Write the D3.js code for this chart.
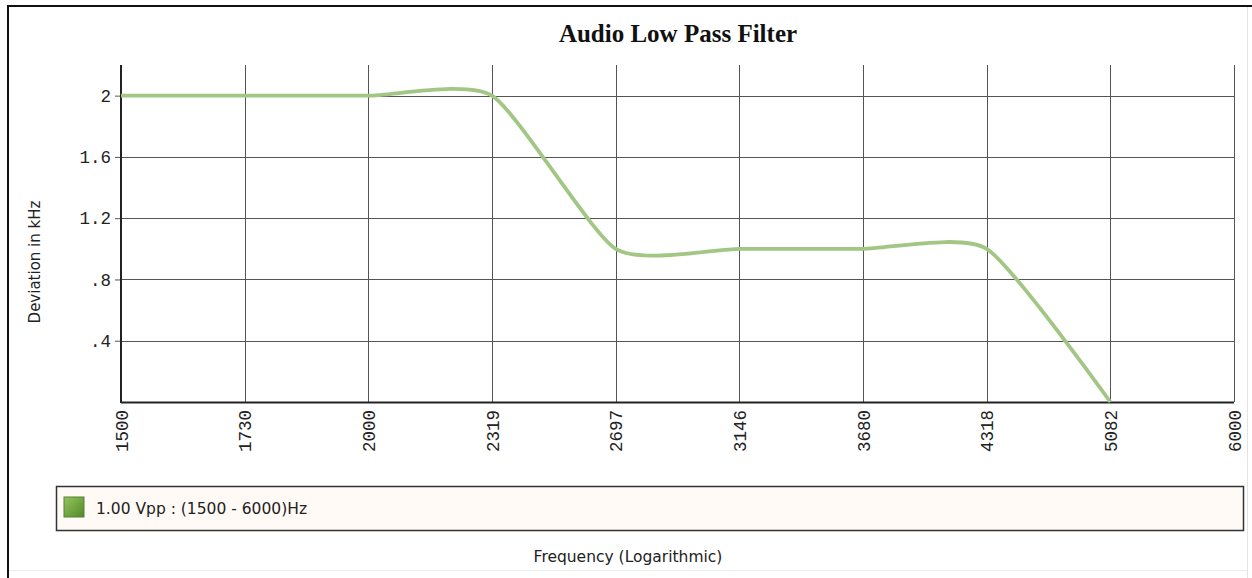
<!DOCTYPE html>
<html>
<head>
<meta charset="utf-8">
<script src="https://cdn.jsdelivr.net/npm/d3@7"></script>
<style>
    body { margin: 0; background: #fff; }
    svg { display: block; }
</style>
</head>
<body>
<div id="chart"></div>
<script>
// Data
const freqTicks = [1500, 1730, 2000, 2319, 2697, 3146, 3680, 4318, 5082, 6000];
const yTicks = [0.4, 0.8, 1.2, 1.6, 2];
const seriesFreq = [1500, 1730, 2000, 2319, 2697, 3146, 3680, 4318, 5082];
const seriesDev = [2, 2, 2, 2, 1, 1, 1, 1, 0];
const seriesName = '1.00 Vpp : (1500 - 6000)Hz';

document.addEventListener('DOMContentLoaded', function() {
    const config = {
        width: 1252,
        height: 578,
        plot: { left: 121, right: 1234, top: 65, bottom: 402 },
        sans: '"DejaVu Sans", Verdana, sans-serif',
        mono: '"Liberation Mono", "Courier New", monospace'
    };

    const svg = d3.select('#chart')
        .append('svg')
        .attr('width', config.width)
        .attr('height', config.height);

    // outer frame (dark top/left, light bottom/right)
    svg.append('line').attr('x1', 7).attr('x2', 1252).attr('y1', 6).attr('y2', 6)
        .attr('stroke', '#111').attr('stroke-width', 2);
    svg.append('line').attr('x1', 8).attr('x2', 8).attr('y1', 6).attr('y2', 578)
        .attr('stroke', '#111').attr('stroke-width', 2);
    svg.append('line').attr('x1', 1247.5).attr('x2', 1247.5).attr('y1', 7).attr('y2', 578)
        .attr('stroke', '#e4e4e4').attr('stroke-width', 1);
    svg.append('line').attr('x1', 9).attr('x2', 1247).attr('y1', 570.5).attr('y2', 570.5)
        .attr('stroke', '#ececec').attr('stroke-width', 1);

    const p = config.plot;

    // x is spaced evenly by tick (logarithmic display), y is linear
    const x = d3.scalePoint()
        .domain(freqTicks)
        .range([p.left, p.right]);

    const y = d3.scaleLinear()
        .domain([0, 2.2])
        .range([p.bottom, p.top]);

    // Title
    svg.append('text')
        .attr('x', 678)
        .attr('y', 42)
        .attr('text-anchor', 'middle')
        .attr('font-family', '"Liberation Serif", "Times New Roman", serif')
        .attr('font-weight', 'bold')
        .attr('font-size', 25)
        .attr('fill', '#111')
        .text('Audio Low Pass Filter');

    // Gridlines
    const grid = svg.append('g');
    grid.selectAll('.vgrid')
        .data(freqTicks)
        .enter()
        .append('line')
        .attr('class', 'vgrid')
        .attr('x1', d => Math.round(x(d)) + 0.5)
        .attr('x2', d => Math.round(x(d)) + 0.5)
        .attr('y1', p.top)
        .attr('y2', p.bottom)
        .attr('stroke', '#555')
        .attr('stroke-width', 1);

    grid.selectAll('.hgrid')
        .data(yTicks)
        .enter()
        .append('line')
        .attr('class', 'hgrid')
        .attr('x1', p.left)
        .attr('x2', p.right)
        .attr('y1', d => Math.round(y(d)) + 0.5)
        .attr('y2', d => Math.round(y(d)) + 0.5)
        .attr('stroke', '#555')
        .attr('stroke-width', 1);

    // Y axis
    const yAxis = d3.axisLeft(y)
        .tickValues(yTicks)
        .tickSize(6)
        .tickPadding(4)
        .tickFormat(d => d3.format('.1f')(d).replace(/^0/, '').replace(/\.0$/, ''));

    const gy = svg.append('g')
        .attr('transform', `translate(${p.left},0)`)
        .call(yAxis);
    gy.select('.domain').remove();
    gy.selectAll('.tick line').attr('stroke', '#555');
    gy.selectAll('.tick text')
        .attr('font-family', config.mono)
        .attr('font-size', 17.5)
        .attr('fill', '#222');

    // X axis labels, rotated
    const xAxis = d3.axisBottom(x).tickSize(0).tickPadding(0);
    const gx = svg.append('g')
        .attr('transform', `translate(0,${p.bottom})`)
        .call(xAxis);
    gx.select('.domain').remove();
    gx.selectAll('.tick text')
        .attr('font-family', config.mono)
        .attr('font-size', 17.5)
        .attr('fill', '#222')
        .attr('text-anchor', 'end')
        .attr('dy', null)
        .attr('transform', 'translate(6,8) rotate(-90)');

    // axis lines
    svg.append('line')
        .attr('x1', p.left).attr('x2', p.left)
        .attr('y1', p.top).attr('y2', p.bottom + 1)
        .attr('stroke', '#222').attr('stroke-width', 2);
    svg.append('line')
        .attr('x1', p.left).attr('x2', p.right)
        .attr('y1', p.bottom + 0.5).attr('y2', p.bottom + 0.5)
        .attr('stroke', '#222').attr('stroke-width', 2);

    // Series line
    const series = seriesFreq.map((f, i) => ({ f: f, v: seriesDev[i] }));
    const line = d3.line()
        .x(d => x(d.f))
        .y(d => y(d.v))
        .curve(d3.curveCardinal.tension(0.4));

    svg.append('path')
        .datum(series)
        .attr('fill', 'none')
        .attr('stroke', '#a2c684')
        .attr('stroke-width', 3.8)
        .attr('stroke-linejoin', 'round')
        .attr('d', line);

    // Y axis title
    svg.append('text')
        .attr('transform', 'translate(40,262) rotate(-90)')
        .attr('text-anchor', 'middle')
        .attr('font-family', config.sans)
        .attr('font-size', 15)
        .attr('fill', '#222')
        .text('Deviation in kHz');

    // Legend
    const defs = svg.append('defs');
    const grad = defs.append('linearGradient')
        .attr('id', 'swatch')
        .attr('x1', 0).attr('y1', 0).attr('x2', 1).attr('y2', 1);
    grad.append('stop').attr('offset', '0%').attr('stop-color', '#96c55e');
    grad.append('stop').attr('offset', '100%').attr('stop-color', '#4f8a26');

    const legend = svg.append('g');
    legend.append('rect')
        .attr('x', 56.5).attr('y', 486.5)
        .attr('width', 1187).attr('height', 44)
        .attr('fill', '#fffaf5')
        .attr('stroke', '#333')
        .attr('stroke-width', 1.5);
    legend.append('rect')
        .attr('x', 64).attr('y', 497)
        .attr('width', 20).attr('height', 20)
        .attr('fill', 'url(#swatch)')
        .attr('stroke', '#5a7f3a')
        .attr('stroke-width', 1);
    legend.append('text')
        .attr('x', 96).attr('y', 514)
        .attr('font-family', config.sans)
        .attr('font-size', 15.5)
        .attr('fill', '#222')
        .text(seriesName);

    // X axis title
    svg.append('text')
        .attr('x', 628)
        .attr('y', 562)
        .attr('text-anchor', 'middle')
        .attr('font-family', config.sans)
        .attr('font-size', 15.5)
        .attr('fill', '#222')
        .text('Frequency (Logarithmic)');
});
</script>
</body>
</html>
